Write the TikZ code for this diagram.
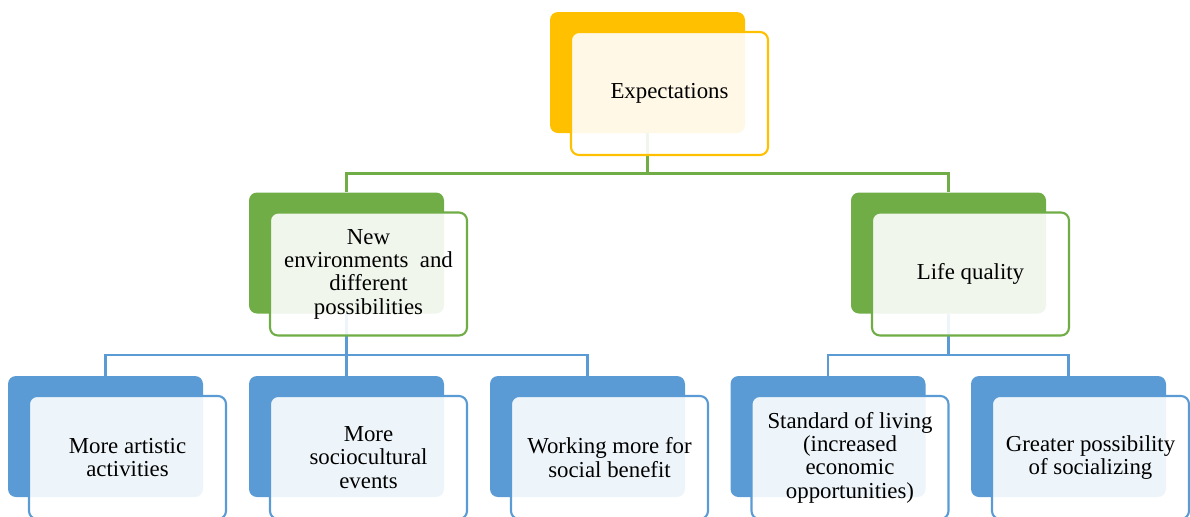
\documentclass[tikz,border=0pt]{standalone}
\usepackage{fontspec}
\setmainfont{Liberation Serif}
\definecolor{gold}{HTML}{FFC000}
\definecolor{leaf}{HTML}{70AD47}
\definecolor{sky}{HTML}{5B9BD5}
\begin{document}
\begin{tikzpicture}[
    back/.style={rectangle, rounded corners=0.16cm, minimum width=3.9cm, minimum height=2.42cm, fill=#1},
    front/.style={rectangle, draw=#1, line width=1.2pt, rounded corners=0.16cm, minimum width=3.94cm, minimum height=2.46cm,
        fill=white, fill opacity=0.9, text opacity=1, align=center, font=\fontsize{13}{13.3}\selectfont},
    link/.style={draw=#1, line width=1.4pt}
]
\useasboundingbox (0,0) rectangle (23.8,-10.32);

% back boxes
\node[back=gold] (expB) at (12.95,-1.45) {};
\node[back=leaf] (envB) at (6.93,-5.06) {};
\node[back=leaf] (lifeB) at (18.97,-5.06) {};
\node[back=sky] (artB) at (2.11,-8.73) {};
\node[back=sky] (eventB) at (6.93,-8.73) {};
\node[back=sky] (workB) at (11.75,-8.73) {};
\node[back=sky] (livingB) at (16.56,-8.73) {};
\node[back=sky] (socialB) at (21.37,-8.73) {};

% connectors
\draw[link=leaf] (expB.south) -- ++(0,-0.8) -| (envB.north);
\draw[link=leaf] (expB.south) -- ++(0,-0.8) -| (lifeB.north);
\draw[link=sky] (envB.south) -- ++(0,-0.82) -| (artB.north);
\draw[link=sky] (envB.south) -- ++(0,-0.82) -| (eventB.north);
\draw[link=sky] (envB.south) -- ++(0,-0.82) -| (workB.north);
\draw[link=sky] (lifeB.south) -- ++(0,-0.82) -| (livingB.north);
\draw[link=sky] (lifeB.south) -- ++(0,-0.82) -| (socialB.north);

% front boxes
\node[front=gold] (exp) at ([shift={(0.44,-0.42)}]expB.center) {Expectations};
\node[front=leaf] (env) at ([shift={(0.44,-0.42)}]envB.center) {New\\environments\ \ and\\different\\possibilities};
\node[front=leaf] (life) at ([shift={(0.44,-0.42)}]lifeB.center) {Life quality};
\node[front=sky] (art) at ([shift={(0.44,-0.42)}]artB.center) {More artistic\\activities};
\node[front=sky] (event) at ([shift={(0.44,-0.42)}]eventB.center) {More\\sociocultural\\events};
\node[front=sky] (work) at ([shift={(0.44,-0.42)}]workB.center) {Working more for\\social benefit};
\node[front=sky] (living) at ([shift={(0.44,-0.42)}]livingB.center) {Standard of living\\(increased\\economic\\opportunities)};
\node[front=sky] (social) at ([shift={(0.44,-0.42)}]socialB.center) {Greater possibility\\of socializing};

\end{tikzpicture}
\end{document}
